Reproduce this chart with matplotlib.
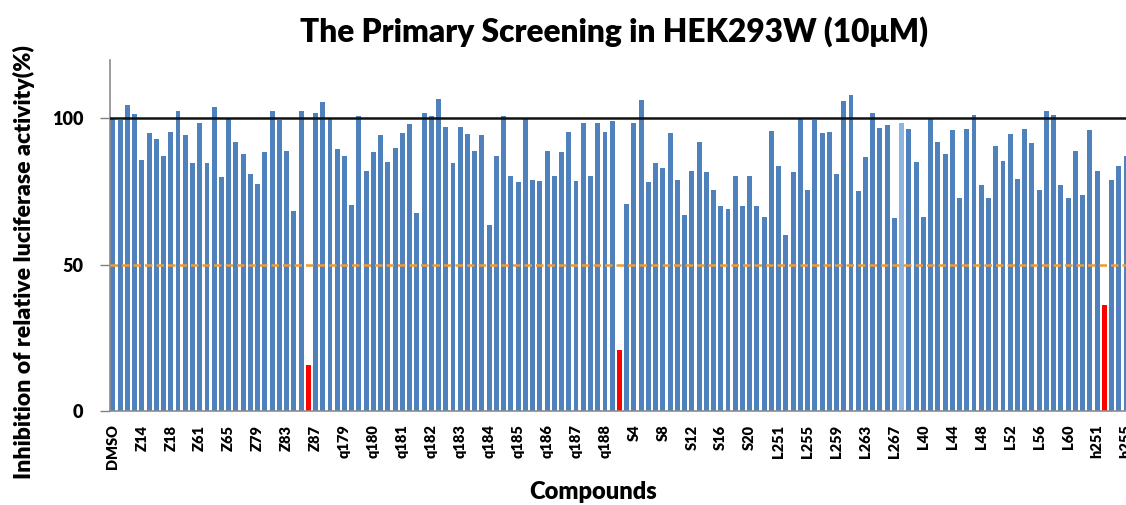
import matplotlib
matplotlib.use("Agg")
import matplotlib.pyplot as plt
import numpy as np

plt.rcParams["font.family"] = ["Lato", "DejaVu Sans"]
plt.rcParams["font.weight"] = "heavy"

# inhibition of relative luciferase activity (%), one value per compound
values = [
    100, 99.5, 104.6, 101.5, 85.9, 95, 93, 87.3, 95.5, 102.5,
    94.2, 84.6, 98.5, 84.6, 103.8, 79.9, 100.1, 91.9, 87.7, 81.1,
    77.7, 88.5, 102.4, 99.4, 89, 68.5, 102.4, 15.8, 101.9, 105.5,
    99.8, 89.4, 87.2, 70.3, 100.8, 82, 88.5, 94.2, 85.1, 89.9,
    95, 98.1, 67.7, 101.9, 100.8, 106.7, 97.2, 84.6, 97.2, 94.7,
    89, 94.2, 63.4, 87.2, 100.7, 80.2, 78.1, 99.8, 79, 78.5,
    89, 80.2, 88.5, 95.5, 78.5, 98.4, 80.2, 98.4, 95.5, 99.2,
    20.7, 70.8, 98.5, 106.3, 78.2, 84.6, 82.9, 95, 79, 66.8,
    82, 92, 81.6, 75.6, 69.9, 69.1, 80.2, 69.9, 80.2, 69.9,
    66.4, 95.8, 83.8, 60, 81.6, 100.2, 75.6, 99.4, 95, 95.5,
    81.1, 105.8, 108.1, 75.1, 86.8, 101.9, 96.7, 97.6, 66, 98.5,
    96.4, 85.1, 66.4, 99.8, 91.9, 87.7, 95.9, 72.8, 96.4, 101.2,
    77.3, 72.8, 90.7, 85.5, 94.7, 79.4, 96.4, 91.6, 75.6, 102.4,
    101.2, 77.3, 72.8, 89, 73.9, 95.9, 82, 36, 79, 83.8,
    87.3,
]

# only every 4th compound name is shown on the axis
tick_labels = [
    "DMSO", "Z14", "Z18", "Z61", "Z65", "Z79", "Z83", "Z87",
    "q179", "q180", "q181", "q182", "q183", "q184", "q185", "q186",
    "q187", "q188", "S4", "S8", "S12", "S16", "S20",
    "L251", "L255", "L259", "L263", "L267",
    "L40", "L44", "L48", "L52", "L56", "L60", "h251", "h255",
]

BLUE = "#4f81bd"
RED = "#ff0000"

x = np.arange(len(values))
colors = [RED if v < 50 else BLUE for v in values]
colors[109] = "#8eb4e3"  # one paler bar in the original

fig = plt.figure(figsize=(11.26, 5.05), dpi=100)
ax = fig.add_axes([110 / 1126, 1 - 410.7 / 505, 1 - 110 / 1126, (410.7 - 60) / 505])

ax.bar(x, values, width=0.68, color=colors, zorder=2)
ax.axhline(100, color="#111111", lw=1.8, zorder=3)
ax.axhline(50, color="#f39a2b", lw=1.8, ls=(0, (3, 1.6)), zorder=3)

ax.set_xlim(-0.4, 139.8)
ax.set_ylim(0, 120)
ax.set_yticks([0, 50, 100])
ax.set_xticks(x[::4][:len(tick_labels)])
ax.set_xticklabels(tick_labels, rotation=90, fontsize=10.5, fontweight="heavy")
ax.tick_params(axis="x", length=0, pad=10)
ax.tick_params(axis="y", length=7, width=1, color="#808080", labelsize=13, pad=12)

for s in ["top", "right"]:
    ax.spines[s].set_visible(False)
for s in ["left", "bottom"]:
    ax.spines[s].set_color("#8c8c8c")
    ax.spines[s].set_linewidth(1.2)

fig.text(0.545, 0.937, "The Primary Screening in HEK293W (10\u03bcM)",
         ha="center", va="center", fontsize=22.8, fontweight="heavy")
fig.text(0.527, 0.026, "Compounds", ha="center", va="center",
         fontsize=17, fontweight="heavy")
fig.text(0.021, 0.481, "Inhibition of relative luciferase activity(%)",
         ha="center", va="center", rotation=90, fontsize=16.6, fontweight="heavy")

fig.savefig("out.png", dpi=100)
